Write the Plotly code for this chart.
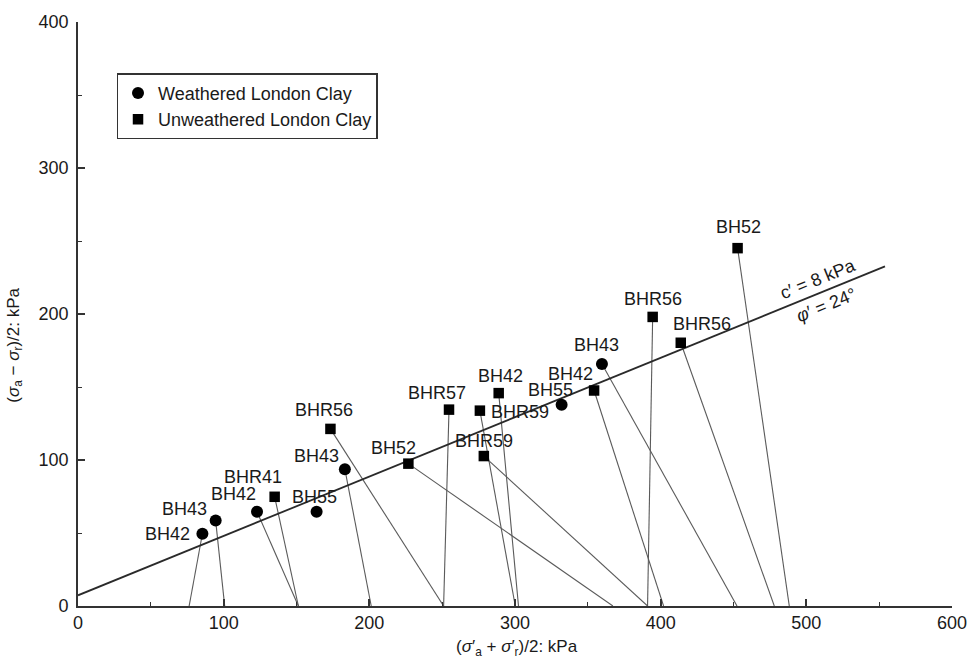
import math
import plotly.graph_objects as go

# Stress paths of triaxial specimens: mean effective stress s' and deviator t
borehole = ["BH42", "BH43", "BH42", "BHR41", "BH55", "BH43", "BHR56", "BH52", "BHR57",
            "BHR59", "BH42", "BHR59", "BH55", "BH42", "BH43", "BHR56", "BHR56", "BH52"]
weathered = [True, True, True, False, True, True, False, False, False,
             False, False, False, True, False, True, False, False, False]
s_eff = [85.4, 94.5, 122.9, 135.0, 163.8, 183.2, 173.3, 226.8, 254.7,
         275.9, 288.8, 278.6, 332.0, 354.3, 359.7, 394.5, 413.8, 452.8]
t_dev = [49.5, 58.5, 64.6, 74.8, 64.6, 93.7, 121.3, 97.5, 134.5,
         133.8, 145.8, 102.7, 137.9, 147.6, 165.8, 198.0, 180.3, 245.1]
# start of each stress path on the s' axis (None: no path drawn)
s_start = [76.3, 100.7, 151.3, 151.3, None, 201.3, 251.0, 367.2, 251.0,
           300.2, 302.4, 391.0, None, 402.0, 452.4, 391.0, 478.0, 488.3]

# failure envelope parameters
c_eff = 8.0     # kPa
phi_eff = 24.0  # degrees
s_env_max = 554.0

# label offsets from each marker, in pixels (right, up)
label_dx = [-35, -31, -24, -22, -2, -28, -6, -15, -12, 40, 2, 0, -11, -24, -5, 0, 21, 1]
label_dy = [0, 12, 18, 20, 15, 13, 19, 16, 17, -1, 17, 15, 15, 17, 19, 18, 19, 21]

FONT = "Liberation Sans, Arial, Helvetica, sans-serif"
TXT = "#1a1a1a"
AX = "#333333"

fig = go.Figure()

# stress paths
px, py = [], []
for s, t, s0 in zip(s_eff, t_dev, s_start):
    if s0 is None:
        continue
    px += [s0, s, None]
    py += [0, t, None]
fig.add_trace(go.Scatter(x=px, y=py, mode="lines", line=dict(color="#5a5a5a", width=1.1),
                         showlegend=False, hoverinfo="skip"))

# failure envelope t = c' cos(phi') + s' sin(phi')
phi = math.radians(phi_eff)
env_s = [0.0, s_env_max]
env_t = [c_eff * math.cos(phi) + s * math.sin(phi) for s in env_s]
fig.add_trace(go.Scatter(x=env_s, y=env_t, mode="lines", line=dict(color="#2a2a2a", width=1.8),
                         showlegend=False, hoverinfo="skip"))

# markers
for flag, name, sym, size in [(True, "Weathered London Clay", "circle", 12),
                              (False, "Unweathered London Clay", "square", 10.5)]:
    xs = [s for s, w in zip(s_eff, weathered) if w == flag]
    ys = [t for t, w in zip(t_dev, weathered) if w == flag]
    fig.add_trace(go.Scatter(x=xs, y=ys, mode="markers", name=name,
                             marker=dict(symbol=sym, size=size, color="black",
                                         line=dict(width=0))))

# borehole labels
for name, s, t, dx, dy in zip(borehole, s_eff, t_dev, label_dx, label_dy):
    fig.add_annotation(x=s, y=t, text=name, showarrow=False, xshift=dx, yshift=dy,
                       font=dict(family=FONT, size=18, color=TXT))

# envelope labels
ang = -22
fig.add_annotation(x=508, y=224, text="c′ = 8 kPa", showarrow=False, textangle=ang,
                   font=dict(family=FONT, size=18, color=TXT))
fig.add_annotation(x=514, y=206, text="<i>φ</i>′ = 24°", showarrow=False, textangle=ang,
                   font=dict(family=FONT, size=18, color=TXT))

# axis titles
fig.add_annotation(xref="paper", yref="paper", x=0.502, y=-0.072, xanchor="center",
                   yanchor="middle",
                   text="(<i>σ</i>′<sub>a</sub> + <i>σ</i>′<sub>r</sub>)/2: kPa",
                   showarrow=False, font=dict(family=FONT, size=17, color=TXT))
fig.add_annotation(xref="paper", yref="paper", x=-0.073, y=0.446, textangle=-90,
                   xanchor="center", yanchor="middle",
                   text="(<i>σ</i><sub>a</sub> − <i>σ</i><sub>r</sub>)/2: kPa",
                   showarrow=False, font=dict(family=FONT, size=17, color=TXT))

axis_common = dict(showline=True, linecolor=AX, linewidth=1.6, ticks="inside", ticklen=7,
                   tickwidth=1.5, tickcolor=AX, showgrid=False, zeroline=False,
                   tickfont=dict(family=FONT, size=18, color=TXT),
                   minor=dict(ticks="inside", ticklen=4, tickwidth=1.3, tickcolor=AX,
                              showgrid=False))

fig.update_xaxes(range=[0, 600], dtick=100, minor_dtick=50, **axis_common)
fig.update_yaxes(range=[0, 400], dtick=100, minor_dtick=50, ticklabelstandoff=4, **axis_common)

fig.update_layout(
    width=979, height=661,
    margin=dict(l=78, r=21, t=18, b=55),
    paper_bgcolor="white", plot_bgcolor="white",
    font=dict(family=FONT, color=TXT),
    legend=dict(x=0.0443, y=0.912, xanchor="left", yanchor="top",
                bordercolor=AX, borderwidth=1.3, bgcolor="white",
                font=dict(family=FONT, size=18, color=TXT),
                itemwidth=30, tracegroupgap=2),
)

fig.write_html("out.html")
